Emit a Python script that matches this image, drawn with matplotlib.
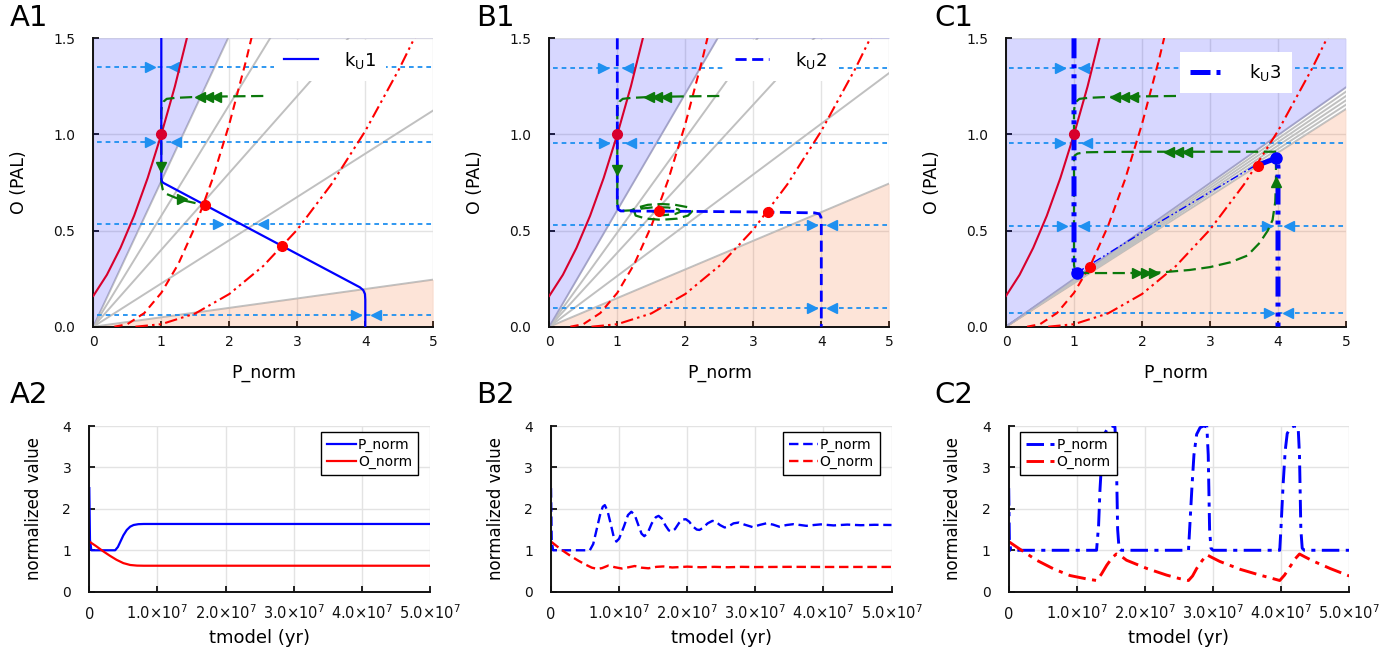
import matplotlib.pyplot as plt

W, H = 1392, 657

# ---- nullclines (same in the three phase plots) ----
p_solid = [0.0, 0.2, 0.4, 0.6, 0.8, 1.0, 1.2, 1.4]
o_solid = [0.16, 0.27, 0.41, 0.577, 0.774, 1.0, 1.25, 1.535]
p_dash = [0.31, 0.5, 0.75, 1.0, 1.25, 1.5, 1.75, 2.0, 2.25, 2.4]
o_dash = [0.0, 0.013, 0.071, 0.176, 0.326, 0.523, 0.765, 1.054, 1.389, 1.612]
p_dd = [0.62, 1.0, 1.5, 2.0, 2.5, 3.0, 3.5, 4.0, 4.5, 4.8]
o_dd = [0.0, 0.013, 0.069, 0.170, 0.316, 0.505, 0.740, 1.018, 1.342, 1.557]

# gray lines through the origin, given as their O value at P = 5
gray_A = [3.785, 2.885, 2.0, 1.125, 0.245]
gray_B = [3.03, 2.45, 1.925, 1.32, 0.745]
gray_C = [1.245, 1.2225, 1.2, 1.1775, 1.155, 1.1325]

# horizontal arrow lines: level, right-pointing and left-pointing heads
arr_y_A = [1.35, 0.96, 0.535, 0.06]
arr_r_A = [[0.83], [0.83], [1.84], [3.86]]
arr_l_A = [[1.18], [1.22], [2.5], [4.16]]
arr_y_B = [1.347, 0.957, 0.529, 0.099]
arr_r_B = [[0.79], [0.8], [3.86], [3.86]]
arr_l_B = [[1.16], [1.2], [4.15], [4.15]]
arr_y_C = [1.347, 0.958, 0.523, 0.069]
arr_r_C = [[0.8], [0.8], [0.82, 3.84], [3.87]]
arr_l_C = [[1.14], [1.19], [1.14, 4.16], [4.14]]

# k_U trajectories
ku1_p = [1.0, 1.0, 1.01, 1.03, 3.92, 3.97, 3.995, 4.0, 4.0]
ku1_o = [1.5, 0.77, 0.755, 0.748, 0.205, 0.19, 0.17, 0.14, 0.0]
ku2_p = [1.0, 1.0, 1.01, 1.05, 2.0, 3.0, 3.9, 3.97, 3.995, 4.0, 4.0]
ku2_o = [1.5, 0.64, 0.612, 0.602, 0.600, 0.597, 0.592, 0.587, 0.57, 0.54, 0.0]
ku3a_p = [1.0, 1.0, 1.01, 1.04]
ku3a_o = [1.5, 0.31, 0.29, 0.28]
ku3b_p = [1.04, 2.0, 3.0, 3.7]
ku3b_o = [0.28, 0.49, 0.70, 0.845]
ku3c_p = [3.7, 3.85, 3.97, 3.99, 4.0, 4.0]
ku3c_o = [0.84, 0.86, 0.875, 0.86, 0.83, 0.0]

# green trajectories
gA_p = [2.5, 2.0, 1.5, 1.2, 1.08, 1.03, 1.01, 1.0, 1.0, 1.0, 1.02, 1.08, 1.2, 1.35, 1.5, 1.65]
gA_o = [1.2, 1.198, 1.195, 1.19, 1.185, 1.17, 1.15, 1.12, 0.9, 0.75, 0.715, 0.69, 0.672, 0.655, 0.643, 0.632]
gB_p = [2.5, 2.0, 1.5, 1.2, 1.08, 1.03, 1.01, 1.0, 1.0, 1.0, 1.02, 1.08, 1.2, 1.3, 1.45, 1.65,
        1.85, 2.03, 2.1, 2.04, 1.88, 1.65, 1.42, 1.27, 1.25, 1.35, 1.55, 1.75, 1.9, 1.93, 1.85,
        1.68, 1.52, 1.52, 1.62]
gB_o = [1.2, 1.198, 1.195, 1.19, 1.185, 1.17, 1.15, 1.12, 0.9, 0.64, 0.612, 0.603, 0.605, 0.62,
        0.634, 0.638, 0.634, 0.622, 0.6, 0.578, 0.562, 0.556, 0.562, 0.578, 0.598, 0.614, 0.622,
        0.62, 0.61, 0.598, 0.586, 0.58, 0.588, 0.6, 0.603]
gC1_p = [2.5, 2.0, 1.5, 1.2, 1.08, 1.03, 1.01, 1.0, 1.0]
gC1_o = [1.2, 1.198, 1.195, 1.19, 1.185, 1.17, 1.15, 1.12, 0.92]
gC2_p = [3.97, 3.5, 3.0, 2.5, 2.0, 1.5, 1.15, 1.05, 1.01, 1.0, 1.0, 1.0, 1.02, 1.08, 1.3, 1.8,
         2.3, 2.7, 3.0, 3.3, 3.55, 3.73, 3.85, 3.92, 3.96, 3.97, 3.97]
gC2_o = [0.91, 0.91, 0.91, 0.91, 0.91, 0.909, 0.907, 0.9, 0.89, 0.87, 0.6, 0.32, 0.288, 0.28,
         0.279, 0.279, 0.283, 0.295, 0.31, 0.335, 0.37, 0.436, 0.5, 0.555, 0.65, 0.75, 0.91]

# ---- time series (t in units of 1e7 yr) ----
tA = [0, 0.01, 0.03, 0.38, 0.42, 0.46, 0.5, 0.55, 0.6, 0.65, 0.72, 0.8, 5.0]
pA = [2.5, 1.25, 1.0, 1.0, 1.08, 1.22, 1.36, 1.49, 1.57, 1.61, 1.63, 1.635, 1.635]
tOA = [0, 0.1, 0.2, 0.3, 0.4, 0.5, 0.6, 0.7, 0.8, 5.0]
oA = [1.21, 1.1, 0.98, 0.87, 0.77, 0.69, 0.645, 0.63, 0.627, 0.627]

tB = [0, 0.01, 0.03, 0.57, 0.62, 0.67, 0.72, 0.76, 0.79, 0.83, 0.875, 0.92, 0.96, 1.0, 1.07, 1.13,
      1.18, 1.23, 1.28, 1.33, 1.37, 1.42, 1.48, 1.54, 1.58, 1.63, 1.68, 1.73, 1.77, 1.82, 1.88,
      1.93, 1.98, 2.03, 2.08, 2.14, 2.18, 2.23, 2.30, 2.37, 2.42, 2.48, 2.55, 2.61, 2.68, 2.76,
      2.84, 2.96, 3.06, 3.16, 3.26, 3.35, 3.46, 3.56, 3.66, 3.75, 3.86, 3.96, 4.15, 4.35, 4.55,
      4.75, 5.0]
pB = [2.5, 1.25, 1.0, 1.0, 1.15, 1.5, 1.85, 2.05, 2.09, 1.95, 1.65, 1.33, 1.21, 1.28, 1.57, 1.85,
      1.93, 1.85, 1.62, 1.40, 1.34, 1.42, 1.65, 1.80, 1.83, 1.76, 1.60, 1.48, 1.45, 1.51, 1.66,
      1.74, 1.75, 1.69, 1.58, 1.50, 1.49, 1.54, 1.65, 1.71, 1.69, 1.61, 1.55, 1.58, 1.65, 1.67,
      1.62, 1.56, 1.61, 1.65, 1.62, 1.57, 1.61, 1.63, 1.61, 1.59, 1.61, 1.625, 1.60, 1.62, 1.605,
      1.615, 1.61]
tOB = [0, 0.1, 0.2, 0.3, 0.4, 0.5, 0.6, 0.68, 0.75, 0.84, 0.94, 1.04, 1.14, 1.23, 1.33, 1.43,
       1.55, 1.65, 1.78, 1.9, 2.0, 2.2, 2.4, 2.6, 2.8, 3.0, 3.5, 4.0, 5.0]
oB = [1.21, 1.08, 0.96, 0.85, 0.75, 0.66, 0.58, 0.55, 0.57, 0.63, 0.59, 0.56, 0.59, 0.62, 0.58,
      0.565, 0.6, 0.61, 0.585, 0.595, 0.605, 0.59, 0.6, 0.59, 0.6, 0.595, 0.6, 0.597, 0.598]

tC = [0, 0.01, 0.03, 1.29, 1.32, 1.34, 1.37, 1.41, 1.46, 1.51, 1.56, 1.58, 1.59, 1.60, 1.62, 1.65,
      2.64, 2.66, 2.69, 2.72, 2.76, 2.81, 2.86, 2.91, 2.93, 2.94, 2.95, 2.97, 3.0,
      3.98, 4.0, 4.03, 4.06, 4.09, 4.14, 4.19, 4.25, 4.27, 4.28, 4.29, 4.31, 4.34, 5.0]
pC = [2.5, 1.25, 1.0, 1.0, 1.6, 2.45, 3.3, 3.82, 3.96, 4.0, 3.98, 3.3, 2.4, 1.5, 1.05, 1.0,
      1.0, 1.6, 2.5, 3.3, 3.8, 3.96, 4.0, 3.98, 3.3, 2.4, 1.5, 1.05, 1.0,
      1.0, 1.6, 2.6, 3.4, 3.82, 3.96, 4.0, 3.98, 3.3, 2.4, 1.5, 1.05, 1.0, 1.0]
tOC = [0, 0.17, 0.41, 0.66, 0.9, 1.14, 1.29, 1.36, 1.44, 1.52, 1.58, 1.65, 1.73, 2.03, 2.32, 2.5,
       2.64, 2.70, 2.76, 2.84, 2.91, 2.98, 3.10, 3.40, 3.69, 3.85, 3.98, 4.05, 4.13, 4.21, 4.27,
       4.35, 4.47, 4.72, 5.0]
oC = [1.21, 1.02, 0.76, 0.55, 0.39, 0.31, 0.27, 0.42, 0.64, 0.82, 0.91, 0.86, 0.76, 0.56, 0.40,
      0.32, 0.27, 0.38, 0.56, 0.75, 0.89, 0.83, 0.73, 0.54, 0.40, 0.33, 0.27, 0.40, 0.60, 0.80,
      0.91, 0.84, 0.74, 0.56, 0.38]

tick_t = [0, 1, 2, 3, 4, 5]
tick_t_lbl = ['0', r'$1.0{\times}10^{7}$', r'$2.0{\times}10^{7}$', r'$3.0{\times}10^{7}$',
              r'$4.0{\times}10^{7}$', r'$5.0{\times}10^{7}$']

BLUE = '#0000ff'
RED = '#ff0000'
CRIMSON = '#d8002c'
GREEN = '#0b780b'
ARROW = '#1f90f0'
GRAY = '#c0c0c0'
DASHDOTDOT = (0, (6, 2, 1.2, 2, 1.2, 2))
DASHDOT = (0, (6, 2.2, 1.4, 2.2))
THICKDDD = (0, (4, 1.2, 0.8, 1.2, 0.8, 1.2))

fig = plt.figure(figsize=(W / 100, H / 100), dpi=100)


def style_axes(ax):
    for s in ['top', 'right']:
        ax.spines[s].set_visible(False)
    for s in ['left', 'bottom']:
        ax.spines[s].set_linewidth(1.4)
        ax.spines[s].set_color('#111111')
    ax.tick_params(direction='in', length=4, width=1.3, labelsize=10, colors='#111111')
    ax.tick_params(axis='y', pad=13)
    ax.grid(True, color='#e3e3e3', lw=1.0)
    ax.set_axisbelow(True)


def phase(left, gray, ay, ar, al):
    ax = fig.add_axes([left / W, 1 - 326.7 / H, 340 / W, 288.4 / H])
    style_axes(ax)
    ax.set_xlim(0, 5)
    ax.set_ylim(0, 1.5)
    ax.set_xticks([0, 1, 2, 3, 4, 5])
    ax.set_yticks([0, 0.5, 1.0, 1.5])
    ax.set_yticklabels(['0.0', '0.5', '1.0', '1.5'])
    ax.tick_params(axis='x', pad=6)
    ax.set_xlabel('P_norm', fontsize=12.5, labelpad=11)
    ax.set_ylabel('O (PAL)', fontsize=12.5, labelpad=18)
    for v in gray:
        ax.plot([0, 5], [0, v], color=GRAY, lw=1.4, zorder=2)
    ax.fill_between([0, 5], [0, gray[0]], [1.5, 1.5], color='#0000ff', alpha=0.155, lw=0, zorder=2.5)
    ax.fill_between([0, 5], [0, 0], [0, gray[-1]], color='#f45a10', alpha=0.16, lw=0, zorder=2.5)
    for y, rr, ll in zip(ay, ar, al):
        ax.plot([0.05, 4.98], [y, y], color=ARROW, lw=1.3, ls=(0, (2.6, 2.2)), zorder=3)
        ax.plot(rr, [y] * len(rr), ls='none', marker='>', ms=7, color=ARROW, zorder=3)
        ax.plot(ll, [y] * len(ll), ls='none', marker='<', ms=7, color=ARROW, zorder=3)
    ax.plot(p_solid, o_solid, color=CRIMSON, lw=1.5, zorder=4)
    ax.plot(p_dash, o_dash, color=RED, lw=1.5, ls=(0, (4, 2.5)), zorder=4)
    ax.plot(p_dd, o_dd, color=RED, lw=1.5, ls=DASHDOTDOT, zorder=4)
    return ax


def green(ax, p, o):
    ax.plot(p, o, color=GREEN, lw=1.6, ls=(0, (5.5, 2.5)), zorder=5)


def garrows(ax, xs, ys, m):
    ax.plot(xs, ys, ls='none', marker=m, ms=7, color=GREEN, zorder=6)


def dots(ax, xs, ys, c, ms=7):
    ax.plot(xs, ys, ls='none', marker='o', ms=ms, color=c, zorder=8)


def top_legend(ax, h, anchor):
    ax.legend(handles=[h], loc='upper right', bbox_to_anchor=anchor, borderaxespad=0,
              fontsize=13, handlelength=1.9, handletextpad=1.4, frameon=True,
              facecolor='white', edgecolor='none', framealpha=1, fancybox=False,
              borderpad=0.55)


# ---- A1 ----
ax = phase(93.3, gray_A, arr_y_A, arr_r_A, arr_l_A)
h, = ax.plot(ku1_p, ku1_o, color=BLUE, lw=1.6, zorder=6, label=r'$\mathregular{k_U}$1')
green(ax, gA_p, gA_o)
garrows(ax, [1.57, 1.69, 1.81], [1.197] * 3, '<')
garrows(ax, [1.0], [0.83], 'v')
garrows(ax, [1.3], [0.664], '>')
dots(ax, [1.0], [1.0], CRIMSON)
dots(ax, [1.65, 2.78], [0.632, 0.418], RED)
top_legend(ax, h, (0.86, 0.995))

# ---- B1 ----
ax = phase(549.3, gray_B, arr_y_B, arr_r_B, arr_l_B)
h, = ax.plot(ku2_p, ku2_o, color=BLUE, lw=2.0, ls=(0, (4, 2)), zorder=6, label=r'$\mathregular{k_U}$2')
green(ax, gB_p, gB_o)
garrows(ax, [1.47, 1.59, 1.71], [1.197] * 3, '<')
garrows(ax, [1.0], [0.815], 'v')
dots(ax, [1.0], [1.0], CRIMSON)
dots(ax, [1.61, 3.21], [0.60, 0.594], RED)
top_legend(ax, h, (0.845, 0.995))

# ---- C1 ----
ax = phase(1006, gray_C, arr_y_C, arr_r_C, arr_l_C)
h, = ax.plot(ku3a_p, ku3a_o, color=BLUE, lw=3.6, ls=THICKDDD, zorder=6,
             label=r'$\mathregular{k_U}$3')
ax.plot(ku3b_p, ku3b_o, color=BLUE, lw=1.0, ls=DASHDOTDOT, zorder=6)
ax.plot(ku3c_p, ku3c_o, color=BLUE, lw=3.6, ls=THICKDDD, zorder=6)
green(ax, gC1_p, gC1_o)
green(ax, gC2_p, gC2_o)
garrows(ax, [1.61, 1.74, 1.87], [1.197] * 3, '<')
garrows(ax, [2.40, 2.53, 2.66], [0.91] * 3, '<')
garrows(ax, [1.93, 2.06, 2.18], [0.279] * 3, '>')
garrows(ax, [3.97], [0.75], '^')
dots(ax, [1.04, 3.97], [0.28, 0.875], BLUE, ms=8)
dots(ax, [1.0], [1.0], CRIMSON)
dots(ax, [1.23, 3.70], [0.308, 0.837], RED)
top_legend(ax, h, (0.84, 0.952))


# ---- time series ----
def series(left, tp, pv, to, ov, ls, lw, loc, anchor):
    ax = fig.add_axes([left / W, 1 - 591.7 / H, 340.5 / W, 165.7 / H])
    style_axes(ax)
    ax.plot(tp, pv, color=BLUE, lw=lw, ls=ls, label='P_norm')
    ax.plot(to, ov, color=RED, lw=lw, ls=ls, label='O_norm')
    ax.set_xlim(0, 5)
    ax.set_ylim(0, 4)
    ax.set_yticks([0, 1, 2, 3, 4])
    ax.set_xticks(tick_t)
    ax.set_xticklabels(tick_t_lbl)
    for t in ax.get_xticklabels():
        t.set_va('baseline')
    ax.tick_params(axis='x', pad=20, labelsize=10.5)
    ax.set_xlabel('tmodel (yr)', fontsize=13, labelpad=5)
    ax.set_ylabel('normalized value', fontsize=12, labelpad=14)
    lg = ax.legend(loc=loc, bbox_to_anchor=anchor, borderaxespad=0, fontsize=10,
                   handlelength=2.1, handletextpad=0.1, borderpad=0.45, labelspacing=0.2,
                   fancybox=False, edgecolor='black', framealpha=1)
    lg.get_frame().set_linewidth(1.0)
    return ax


series(89.3, tA, pA, tOA, oA, '-', 1.6, 'upper right', (0.966, 0.966))
series(551, tB, pB, tOB, oB, (0, (4, 2)), 1.7, 'upper right', (0.966, 0.966))
series(1008.7, tC, pC, tOC, oC, DASHDOT, 2.1, 'upper left', (0.033, 0.966))

# panel labels
for txt, x, y in [('A1', 10, 4), ('B1', 476, 4), ('C1', 934, 4),
                  ('A2', 10, 381), ('B2', 476, 381), ('C2', 934, 381)]:
    fig.text(x / W, 1 - y / H, txt, fontsize=21, va='top', ha='left')

fig.savefig('out.png', dpi=100)
